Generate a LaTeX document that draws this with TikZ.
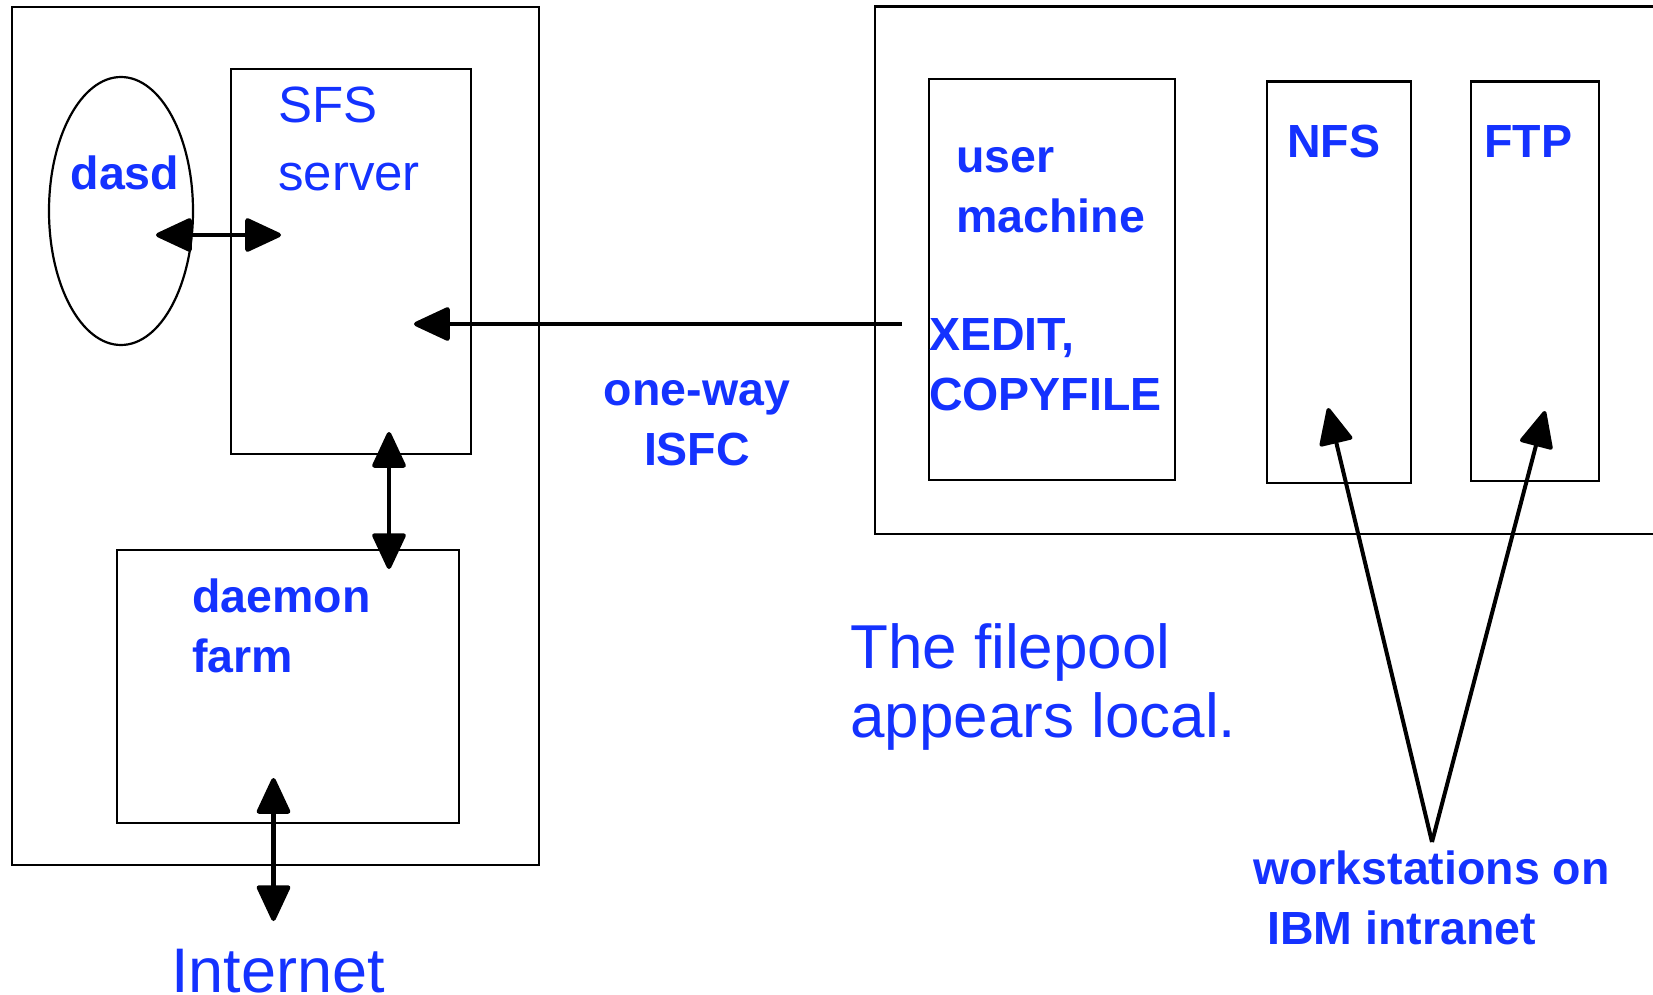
\documentclass[tikz,border=0pt]{standalone}
\usepackage{fontspec}
\setmainfont{Liberation Sans}
\usepackage{tikz}
\usetikzlibrary{arrows.meta,shapes.geometric}
\definecolor{labelblue}{RGB}{20,50,255}

\begin{document}
\begin{tikzpicture}[x=1pt,y=-1pt]

	\tikzstyle{box} = [rectangle, draw, line width=2.2pt, anchor=north west, inner sep=0pt]
	\tikzstyle{boldtext} = [text=labelblue, inner sep=0pt, anchor=base west, align=left,
    		font=\bfseries\fontsize{46.5}{60}\selectfont]
	\tikzstyle{plaintext} = [boldtext, font=\fontsize{51}{67}\selectfont]
	\tikzstyle{line} = [draw, line width=4.5pt,
    		{Triangle[length=39pt,width=35pt,round]}-{Triangle[length=39pt,width=35pt,round]}]
	\tikzstyle{oneway} = [draw, line width=4.5pt, -{Triangle[length=39pt,width=35pt,round]}]

    \useasboundingbox (0, 0) rectangle (1653, 995);

    % Place nodes (multi-line texts sit on their last baseline)
    \node [box, minimum width=527pt, minimum height=858pt] at (10.5, 6) (vm_host) {};
    \node [box, minimum width=240pt, minimum height=385pt] at (230, 68) (sfs_server) {};
    \node [ellipse, draw, line width=2.2pt, minimum width=144pt, minimum height=268pt]
        at (121, 211) (dasd_disk) {};
    \node [box, minimum width=342pt, minimum height=273pt] at (116, 549) (daemon_farm) {};

    \node [boldtext] at (70.5, 189.5) (dasd_label) {dasd};
    \node [plaintext] at (278, 190) (sfs_label) {SFS\\server};
    \node [boldtext] at (192, 672.5) (farm_label) {daemon\\farm};
    \node [plaintext, anchor=base, font=\fontsize{63}{67}\selectfont] at (278, 992) (internet) {Internet};

    \node [box, minimum width=900pt, minimum height=527pt] at (874, 5.5) (pool_host) {};
    \node [box, minimum width=246pt, minimum height=401pt] at (927.5, 78) (user_machine) {};
    \node [box, minimum width=144pt, minimum height=401pt] at (1266, 80.5) (nfs_box) {};
    \node [box, minimum width=128pt, minimum height=399pt] at (1469.5, 80.5) (ftp_box) {};

    \node [boldtext] at (956, 232) (user_label) {user\\machine};
    \node [boldtext] at (929, 410.5) (cmd_label) {XEDIT,\\COPYFILE};
    \node [boldtext] at (1287, 158) (nfs_label) {NFS};
    \node [boldtext] at (1484, 158) (ftp_label) {FTP};

    \node [boldtext, anchor=base, align=center] at (697, 465) (isfc_label) {one-way\\ISFC};
    \node [plaintext, font=\fontsize{62}{69}\selectfont] at (850, 737) (pool_note) {The filepool\\appears local.};
    \node [boldtext] at (1253, 944.5) (ws_label) {workstations on\\\hspace{14pt}IBM intranet};

    % Arrow ends
    \coordinate (dasd_port) at (156, 235);
    \coordinate (sfs_port) at (281, 235);
    \coordinate (sfs_in) at (414, 324);
    \coordinate (user_out) at (902, 324);
    \coordinate (sfs_low) at (389, 432);
    \coordinate (farm_top) at (389, 569);
    \coordinate (farm_low) at (273.5, 778);
    \coordinate (net_top) at (273.5, 921);
    \coordinate (ws_point) at (1432, 842);
    \coordinate (nfs_in) at (1328, 408);
    \coordinate (ftp_in) at (1545, 411);

    % Draw edges
    \path [line] (dasd_port) -- (sfs_port);
    \path [oneway] (user_out) -- (sfs_in);
    \path [line] (sfs_low) -- (farm_top);
    \path [line] (farm_low) -- (net_top);
    \path [oneway, line width=4pt] (ws_point) -- (nfs_in);
    \path [oneway, line width=4pt] (ws_point) -- (ftp_in);
\end{tikzpicture}
\end{document}
